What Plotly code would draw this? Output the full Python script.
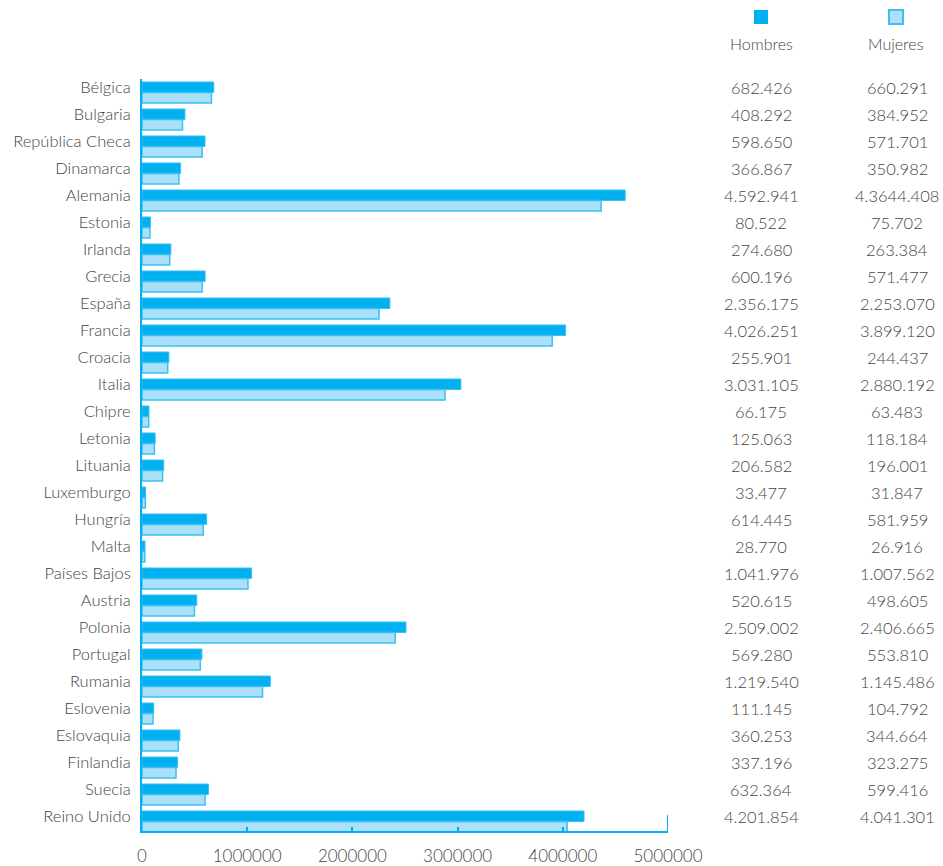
import plotly.graph_objects as go

paises = ["Bélgica", "Bulgaria", "República Checa", "Dinamarca", "Alemania", "Estonia",
          "Irlanda", "Grecia", "España", "Francia", "Croacia", "Italia", "Chipre", "Letonia",
          "Lituania", "Luxemburgo", "Hungría", "Malta", "Países Bajos", "Austria", "Polonia",
          "Portugal", "Rumania", "Eslovenia", "Eslovaquia", "Finlandia", "Suecia", "Reino Unido"]

hombres = [682426, 408292, 598650, 366867, 4592941, 80522, 274680, 600196, 2356175, 4026251,
           255901, 3031105, 66175, 125063, 206582, 33477, 614445, 28770, 1041976, 520615,
           2509002, 569280, 1219540, 111145, 360253, 337196, 632364, 4201854]

mujeres = [660291, 384952, 571701, 350982, 4364408, 75702, 263384, 571477, 2253070, 3899120,
           244437, 2880192, 63483, 118184, 196001, 31847, 581959, 26916, 1007562, 498605,
           2406665, 553810, 1145486, 104792, 344664, 323275, 599416, 4041301]

hombres_txt = ["682.426", "408.292", "598.650", "366.867", "4.592.941", "80.522", "274.680",
               "600.196", "2.356.175", "4.026.251", "255.901", "3.031.105", "66.175", "125.063",
               "206.582", "33.477", "614.445", "28.770", "1.041.976", "520.615", "2.509.002",
               "569.280", "1.219.540", "111.145", "360.253", "337.196", "632.364", "4.201.854"]

mujeres_txt = ["660.291", "384.952", "571.701", "350.982", "4.3644.408", "75.702", "263.384",
               "571.477", "2.253.070", "3.899.120", "244.437", "2.880.192", "63.483", "118.184",
               "196.001", "31.847", "581.959", "26.916", "1.007.562", "498.605", "2.406.665",
               "553.810", "1.145.486", "104.792", "344.664", "323.275", "599.416", "4.041.301"]

x_ticks = [0, 1000000, 2000000, 3000000, 4000000, 5000000]

AZUL = "#00b0f0"
AZUL_CLARO = "#aae0fa"
BORDE = "#3cc0f0"
GRIS = "#444444"
FUENTE = "Lato"

W, H = 943, 866
ML, MR, MT, MB = 142, 0, 79, 35
plot_w = W - ML - MR
x_dom_end = (668 - ML) / plot_w

def px_x(px):
    return (px - ML) / plot_w

def px_y(py):
    return 1 - (py - MT) / (H - MT - MB)

fig = go.Figure()
fig.add_trace(go.Bar(y=paises, x=hombres, orientation="h", name="Hombres",
                     marker=dict(color=AZUL, line=dict(color=BORDE, width=1)),
                     hoverinfo="x+y"))
fig.add_trace(go.Bar(y=paises, x=mujeres, orientation="h", name="Mujeres",
                     marker=dict(color=AZUL_CLARO, line=dict(color=BORDE, width=1.5)),
                     hoverinfo="x+y"))

# value table on the right
col_h, col_m = px_x(761), px_x(897)
for p, th, tm in zip(paises, hombres_txt, mujeres_txt):
    for cx, t in ((col_h, th), (col_m, tm)):
        fig.add_annotation(x=cx, xref="paper", y=p, yref="y", text=t, showarrow=False,
                           xanchor="center", yanchor="middle", yshift=5,
                           font=dict(family=FUENTE, size=16.5, color=GRIS, weight=300))

# legend header
for cx, name, fill, lw in ((761, "Hombres", AZUL, 0), (896, "Mujeres", AZUL_CLARO, 2)):
    fig.add_shape(type="rect", xref="paper", yref="paper",
                  x0=px_x(cx - 7), x1=px_x(cx + 7), y0=px_y(24), y1=px_y(10),
                  fillcolor=fill, line=dict(color=BORDE if lw else fill, width=lw))
    fig.add_annotation(x=px_x(cx), xref="paper", y=px_y(43), yref="paper", text=name,
                       showarrow=False, xanchor="center", yanchor="middle",
                       font=dict(family=FUENTE, size=16, color=GRIS, weight=300))

# closing tick at the end of the value axis
fig.add_shape(type="line", xref="x", yref="paper", x0=x_ticks[-1], x1=x_ticks[-1],
              y0=0, y1=16 / (H - MT - MB), line=dict(color=AZUL, width=2))

fig.update_layout(
    template="none",
    width=W, height=H,
    margin=dict(l=ML, r=MR, t=MT, b=MB, autoexpand=False),
    barmode="group", bargap=0.22, bargroupgap=0,
    plot_bgcolor="white", paper_bgcolor="white",
    showlegend=False,
    font=dict(family=FUENTE, color=GRIS),
)
fig.update_xaxes(domain=[0, x_dom_end], range=[0, 5000000], tickvals=x_ticks,
                 ticktext=[str(v) for v in x_ticks], showgrid=False, zeroline=False,
                 automargin=False,
                 showline=True, linecolor=AZUL, linewidth=2, ticks="inside", ticklen=4,
                 tickcolor=AZUL, tickwidth=1.5,
                 tickfont=dict(size=17, color=GRIS, weight=300),
                 ticklabelstandoff=9)
fig.update_yaxes(range=[27.35, -0.5], showgrid=False, zeroline=False, showline=True,
                 automargin=False,
                 linecolor=AZUL, linewidth=2, ticks="",
                 tickfont=dict(size=16.5, color=GRIS, weight=300),
                 ticklabelstandoff=6, ticklabelshift=5)

fig.write_html("out.html")
